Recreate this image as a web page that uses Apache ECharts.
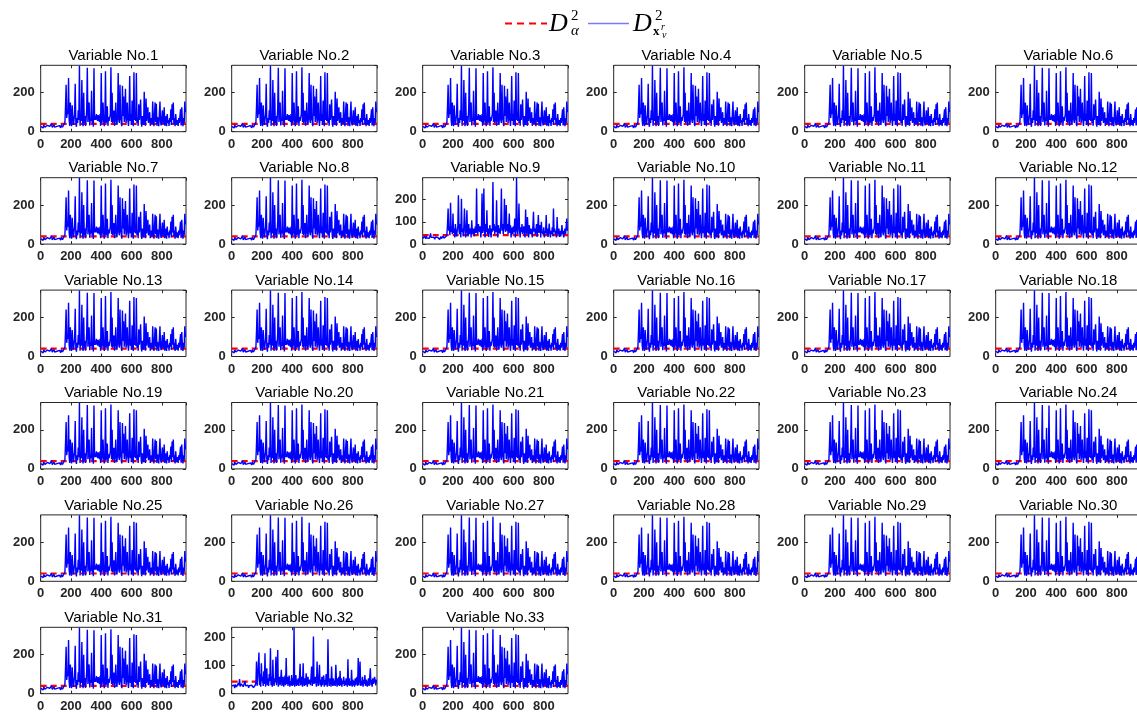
<!DOCTYPE html>
<meta charset="utf-8" />
<style>
html, body { margin: 0; background: #fff; }
#chart { width: 1137px; height: 718px; }
</style>
<div id="chart"></div>
<script src="https://cdn.jsdelivr.net/npm/echarts@6/dist/echarts.min.js"></script>
<script>
// samples 0..960, one kept value every 4 samples
const step = 4;
const nSamples = 960;
const xTickStep = 200;

// control limit D_alpha^2 (red dashed)
const limitStd = 40;
const limit9 = 40;
const limit32 = 43;

// D^2 statistic, shape shared by most variables
const seriesStd = [
  27, 22, 31, 25, 19, 34, 28, 23, 30, 26,
  21, 33, 29, 37, 24, 27, 20, 31, 42, 22,
  30, 25, 35, 23, 28, 19, 32, 27, 24, 29,
  22, 31, 26, 20, 34, 28, 23, 30, 25, 27,
  48, 130, 240, 70, 110, 90, 275, 60, 30, 150,
  55, 28, 135, 80, 35, 60, 90, 245, 50, 25,
  70, 45, 110, 60, 338, 30, 85, 55, 265, 60,
  28, 200, 45, 80, 30, 60, 120, 327, 50, 90,
  150, 32, 70, 55, 210, 45, 70, 26, 325, 60,
  80, 60, 90, 75, 55, 85, 65, 50, 90, 30,
  300, 45, 70, 150, 55, 28, 60, 310, 45, 65,
  130, 30, 75, 55, 60, 90, 330, 50, 200, 45,
  80, 108, 30, 70, 150, 55, 35, 90, 300, 60,
  45, 240, 70, 55, 28, 235, 80, 180, 50, 95,
  220, 45, 70, 150, 60, 30, 85, 285, 55, 90,
  35, 160, 70, 28, 305, 60, 80, 55, 300, 45,
  70, 30, 140, 60, 95, 165, 50, 26, 80, 60,
  35, 205, 70, 30, 170, 55, 90, 125, 45, 60,
  100, 30, 70, 55, 40, 155, 60, 28, 90, 150,
  50, 143, 30, 75, 55, 28, 90, 155, 50, 32,
  70, 110, 40, 60, 125, 30, 55, 80, 28, 90,
  45, 60, 30, 70, 50, 115, 35, 140, 60, 150,
  40, 70, 28, 90, 50, 35, 60, 30, 70, 45,
  55, 115, 32, 125, 60, 28, 70, 45, 155, 100
];

// Variable No.9
const series9 = [
  25, 30, 22, 35, 28, 24, 38, 27, 21, 33,
  29, 26, 34, 48, 30, 23, 36, 27, 31, 25,
  22, 32, 28, 36, 24, 30, 26, 33, 21, 29,
  34, 25, 30, 23, 37, 27, 22, 31, 26, 35,
  45, 90, 160, 60, 75, 40, 185, 55, 80, 45,
  137, 50, 70, 30, 90, 55, 35, 60, 80, 219,
  60, 45, 90, 30, 204, 55, 70, 35, 80, 160,
  60, 30, 75, 152, 50, 35, 90, 45, 60, 70,
  30, 107, 55, 45, 70, 35, 60, 80, 50, 249,
  60, 45, 90, 70, 55, 80, 30, 60, 227, 50,
  70, 249, 60, 30, 90, 55, 152, 45, 70, 32,
  60, 85, 50, 30, 70, 55, 279, 60, 90, 45,
  80, 55, 197, 60, 30, 85, 50, 70, 45, 100,
  249, 60, 90, 45, 70, 204, 80, 55, 175, 60,
  90, 45, 70, 137, 50, 85, 30, 60, 75, 45,
  80, 55, 115, 30, 60, 298, 70, 45, 90, 182,
  60, 30, 75, 55, 90, 45, 60, 80, 50, 30,
  155, 60, 45, 122, 70, 30, 85, 55, 45, 70,
  50, 30, 80, 145, 55, 70, 45, 60, 90, 32,
  70, 130, 50, 45, 85, 30, 100, 55, 60, 45,
  75, 30, 60, 50, 130, 45, 70, 32, 55, 92,
  50, 30, 60, 45, 75, 35, 160, 55, 70, 45,
  60, 30, 122, 55, 45, 70, 32, 60, 35, 50,
  85, 45, 60, 30, 55, 70, 45, 50, 115, 60
];

// Variable No.32
const series32 = [
  28, 22, 35, 25, 30, 20, 33, 26, 24, 31,
  27, 38, 30, 52, 26, 22, 35, 29, 42, 25,
  31, 24, 45, 28, 22, 33, 26, 30, 21, 29,
  25, 32, 23, 30, 27, 35, 22, 29, 26, 31,
  40, 115, 28, 55, 60, 147, 30, 70, 25, 109,
  45, 60, 28, 80, 35, 144, 25, 55, 91, 30,
  55, 28, 70, 45, 162, 30, 60, 25, 121, 40,
  28, 55, 45, 132, 30, 60, 156, 25, 50, 60,
  30, 55, 85, 28, 45, 60, 25, 40, 65, 30,
  127, 35, 60, 28, 50, 65, 25, 45, 30, 67,
  28, 55, 30, 237, 25, 45, 67, 28, 50, 30,
  55, 28, 60, 107, 30, 45, 60, 25, 109, 40,
  28, 55, 30, 73, 45, 25, 60, 35, 28, 50,
  30, 60, 97, 28, 45, 204, 35, 28, 60, 40,
  25, 115, 50, 28, 55, 103, 30, 50, 25, 60,
  30, 55, 65, 25, 50, 30, 70, 40, 25, 194,
  60, 28, 45, 55, 25, 97, 40, 28, 55, 30,
  45, 28, 103, 50, 25, 55, 30, 60, 28, 82,
  30, 55, 25, 45, 35, 60, 28, 45, 30, 55,
  40, 25, 123, 30, 55, 28, 45, 30, 85, 25,
  50, 30, 45, 25, 55, 30, 50, 60, 28, 127,
  30, 55, 115, 28, 45, 30, 60, 25, 50, 35,
  67, 28, 50, 45, 25, 40, 55, 28, 60, 91,
  30, 50, 25, 55, 35, 28, 60, 62, 30, 50
];

const panelStd = { data: seriesStd, limit: limitStd, yMax: 340, yStep: 200 };
const panel9 = { data: series9, limit: limit9, yMax: 298, yStep: 100 };
const panel32 = { data: series32, limit: limit32, yMax: 237, yStep: 100 };

const nPanels = 33;
const nCols = 6;
const left0 = 40.7, colGap = 191, top0 = 65.3, rowGap = 112.4;
const plotW = 145.3, plotH = 66.4;

const tickFont = {
  color: '#262626', fontSize: 13, fontWeight: 'bold',
  fontFamily: '"Liberation Sans", Arial, sans-serif'
};

const chart = echarts.init(document.getElementById('chart'));

const grid = [], xAxis = [], yAxis = [], series = [], title = [];
for (let k = 0; k < nPanels; k++) {
  const row = Math.floor(k / nCols), col = k % nCols;
  const left = left0 + col * colGap, top = top0 + row * rowGap;
  const p = k === 8 ? panel9 : k === 31 ? panel32 : panelStd;

  grid.push({
    left, top, width: plotW, height: plotH,
    show: true, borderColor: '#262626', borderWidth: 1,
    outerBoundsMode: 'none'
  });
  title.push({
    text: 'Variable No.' + (k + 1),
    left: left + plotW / 2, top: top - 17, textAlign: 'center', padding: 0,
    textStyle: { color: '#000', fontSize: 15, fontWeight: 'normal', fontFamily: '"Liberation Sans", Arial, sans-serif' }
  });

  const xBase = {
    gridIndex: k, type: 'value', min: 0, max: nSamples, interval: xTickStep,
    axisLine: { show: false, onZero: false }, splitLine: { show: false },
    axisTick: { inside: true, length: 3, lineStyle: { color: '#262626' } }
  };
  xAxis.push({ ...xBase, position: 'bottom',
    axisLabel: { ...tickFont, margin: 6, showMaxLabel: false } });
  xAxis.push({ ...xBase, position: 'top', axisLabel: { show: false } });

  const yBase = {
    gridIndex: k, type: 'value', min: 0, max: p.yMax, interval: p.yStep,
    axisLine: { show: false, onZero: false }, splitLine: { show: false },
    axisTick: { inside: true, length: 3, lineStyle: { color: '#262626' } }
  };
  yAxis.push({ ...yBase, position: 'left',
    axisLabel: { ...tickFont, margin: 6, showMaxLabel: false } });
  yAxis.push({ ...yBase, position: 'right', axisLabel: { show: false } });

  series.push({
    type: 'line', xAxisIndex: 2 * k, yAxisIndex: 2 * k,
    data: [[0, p.limit], [nSamples, p.limit]],
    symbol: 'none', silent: true, z: 1,
    lineStyle: { color: '#ff0000', width: 2.2, type: [6, 4] }
  });
  series.push({
    type: 'line', xAxisIndex: 2 * k, yAxisIndex: 2 * k,
    data: p.data.map((v, i) => [i * step, v]),
    symbol: 'none', silent: true, z: 2,
    lineStyle: { color: '#0000ff', width: 1.4 }
  });
}

const serif = '"Liberation Serif", "DejaVu Serif", serif';
const legend = [
  { type: 'line', shape: { x1: 505, y1: 23.5, x2: 547, y2: 23.5 },
    style: { stroke: '#ff0000', lineWidth: 2, lineDash: [7, 5] } },
  { type: 'text', x: 549, y: 11, style: { text: 'D', font: 'italic 26px ' + serif, fill: '#000', verticalAlign: 'top' } },
  { type: 'text', x: 571, y: 9, style: { text: '2', font: '15px ' + serif, fill: '#000', verticalAlign: 'top' } },
  { type: 'text', x: 571, y: 24, style: { text: 'α', font: 'italic 15px ' + serif, fill: '#000', verticalAlign: 'top' } },
  { type: 'line', shape: { x1: 588, y1: 23.5, x2: 629, y2: 23.5 },
    style: { stroke: '#7a7aff', lineWidth: 1.5 } },
  { type: 'text', x: 633, y: 11, style: { text: 'D', font: 'italic 26px ' + serif, fill: '#000', verticalAlign: 'top' } },
  { type: 'text', x: 655, y: 9, style: { text: '2', font: '15px ' + serif, fill: '#000', verticalAlign: 'top' } },
  { type: 'text', x: 653, y: 25, style: { text: 'x', font: 'bold 13px ' + serif, fill: '#000', verticalAlign: 'top' } },
  { type: 'text', x: 661, y: 22, style: { text: 'r', font: 'italic 10px ' + serif, fill: '#000', verticalAlign: 'top' } },
  { type: 'text', x: 662, y: 30, style: { text: 'v', font: 'italic 10px ' + serif, fill: '#000', verticalAlign: 'top' } }
];

chart.setOption({
  animation: false,
  backgroundColor: '#fff',
  title, grid, xAxis, yAxis, series,
  graphic: legend
});
</script>
